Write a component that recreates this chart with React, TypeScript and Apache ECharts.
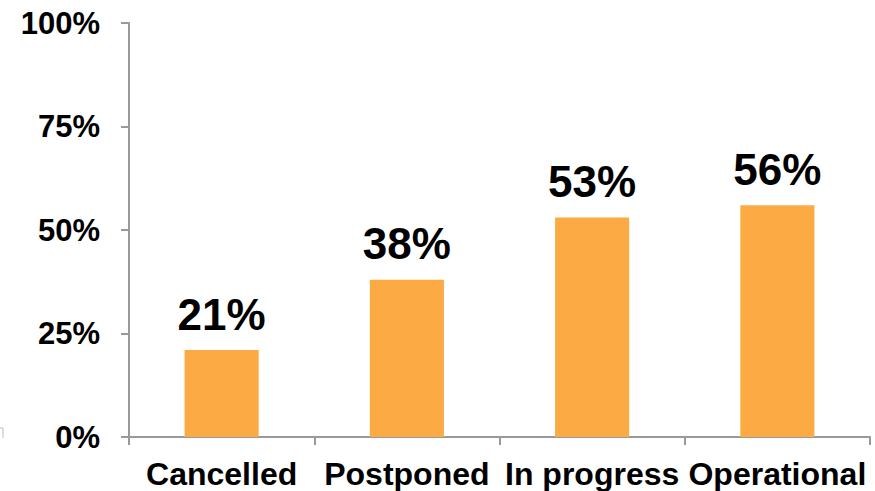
import React, { useEffect, useRef } from "react";
import * as echarts from "echarts";

const categories = ["Cancelled", "Postponed", "In progress", "Operational"];
const values = [21, 38, 53, 56];
const yTicks = [0, 25, 50, 75, 100];

const FONT = "'Liberation Sans', Arial, Helvetica, sans-serif";

export default function App() {
  const ref = useRef<HTMLDivElement>(null);
  useEffect(() => {
    if (!ref.current) return;
    const chart = echarts.init(ref.current, undefined, { renderer: "svg" });
    chart.setOption({
      animation: false,
      grid: { left: 129, right: 5, top: 23, bottom: 54, containLabel: false },
      xAxis: {
        type: "category",
        data: categories,
        axisLine: { lineStyle: { color: "#999999", width: 2 } },
        axisTick: { show: true, length: 8, alignWithLabel: false, lineStyle: { color: "#999999", width: 2 } },
        axisLabel: {
          margin: 21,
          color: "#000",
          fontFamily: FONT,
          fontWeight: "bold",
          fontSize: 32,
          interval: 0,
        },
      },
      yAxis: {
        type: "value",
        min: yTicks[0],
        max: yTicks[yTicks.length - 1],
        interval: 25,
        splitLine: { show: false },
        axisLine: { show: true, lineStyle: { color: "#999999", width: 2 } },
        axisTick: { show: true, length: 8, lineStyle: { color: "#999999", width: 2 } },
        axisLabel: {
          margin: 29,
          color: "#000",
          fontFamily: FONT,
          fontWeight: "bold",
          fontSize: 31,
          formatter: (v: number) => v + "%",
        },
      },
      series: [
        {
          type: "bar",
          data: values,
          barWidth: "40%",
          itemStyle: { color: "#FBAA44" },
          label: {
            show: true,
            position: "top",
            distance: 14,
            color: "#000",
            fontFamily: FONT,
            fontWeight: "bold",
            fontSize: 44,
            formatter: (p: any) => p.value + "%",
          },
        },
      ],
      graphic: [
        {
          type: "polyline",
          shape: { points: [[0, 428], [3, 428], [3, 438]] },
          style: { stroke: "#bbbbbb", lineWidth: 1, fill: null },
        },
      ],
    });
    return () => chart.dispose();
  }, []);
  return <div ref={ref} style={{ width: 875, height: 491, position: "absolute", left: 0, top: 0 }} />;
}
